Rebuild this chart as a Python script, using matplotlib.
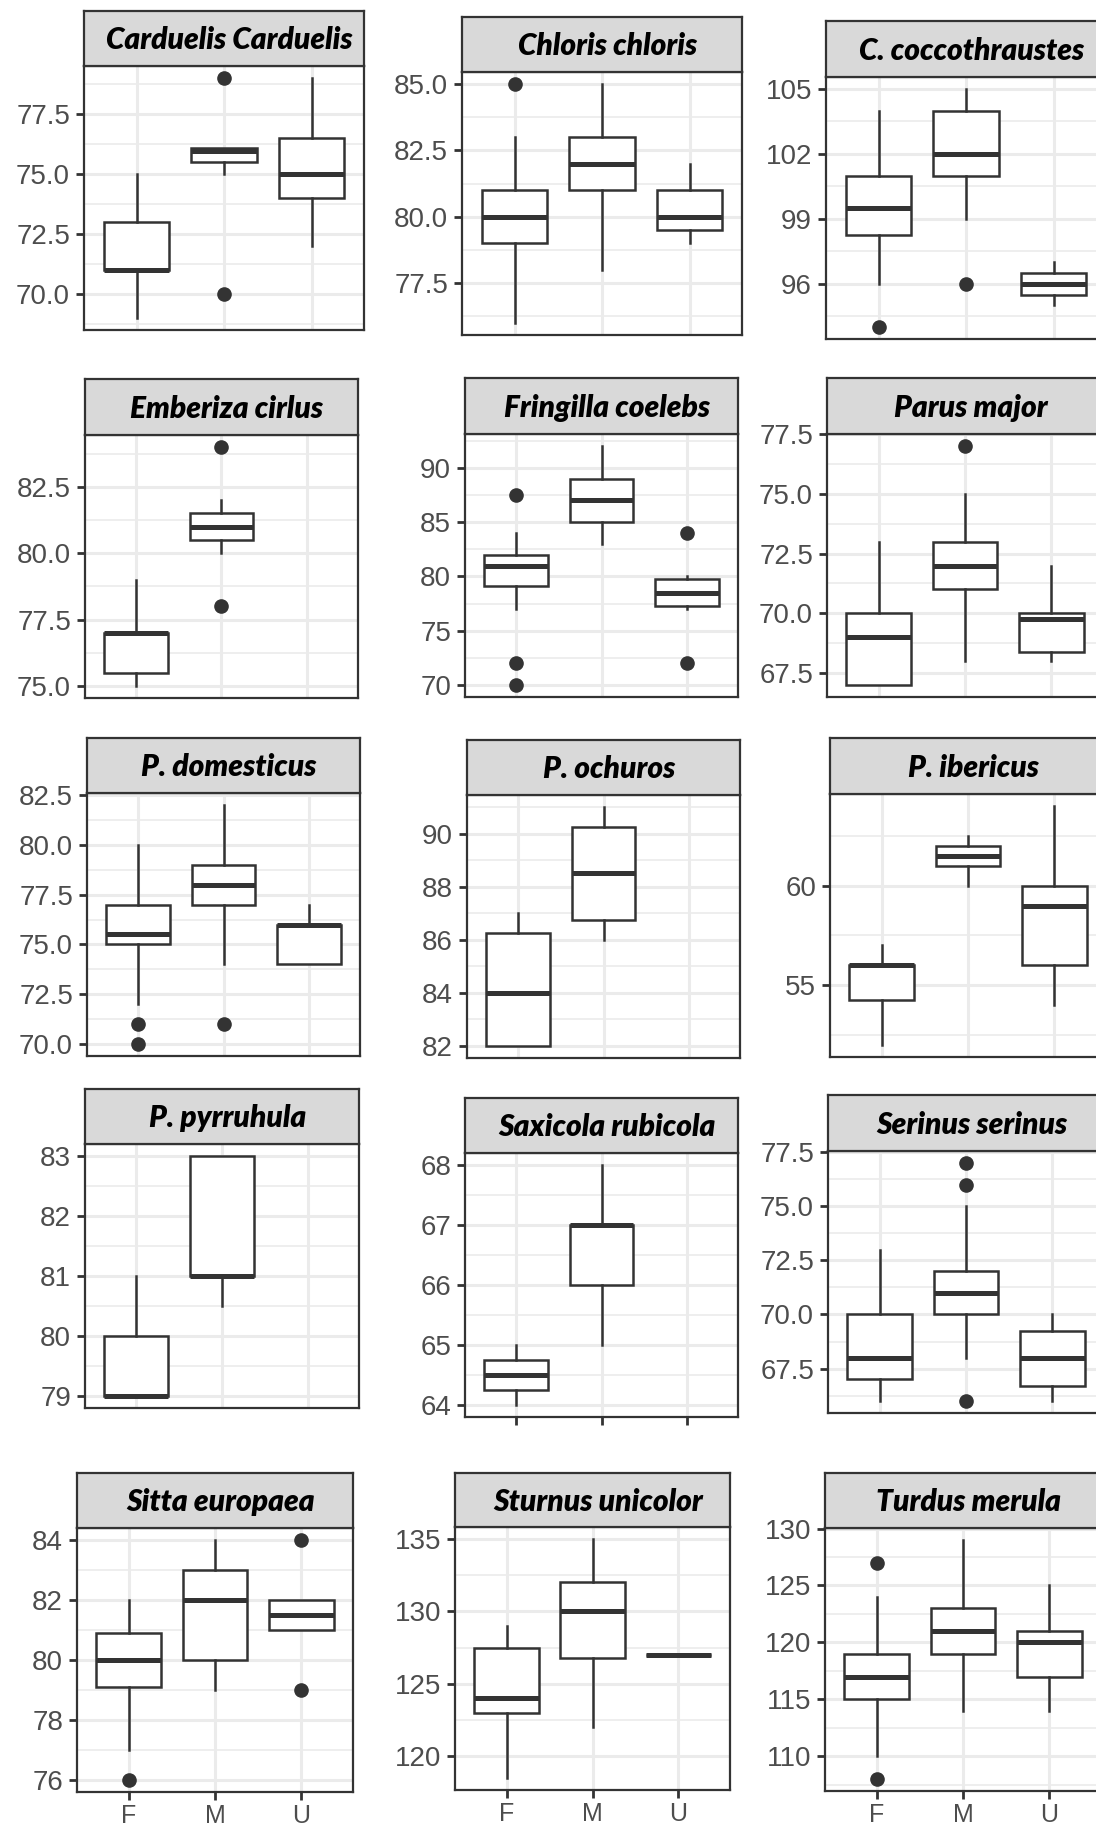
import matplotlib
matplotlib.use("Agg")
import matplotlib.pyplot as plt
from matplotlib.ticker import AutoMinorLocator

W, H = 1096, 1827

groups = ["F", "M", "U"]

# box stats per group: [whisker low, q1, median, q3, whisker high]; None = no data
carduelis_box = [[69, 71, 71, 73, 75], [75, 75.5, 75.95, 76.1, 76.1], [72, 74, 75, 76.5, 79]]
carduelis_out = [[], [79, 70], []]
carduelis_ticks = [70.0, 72.5, 75.0, 77.5]

chloris_box = [[76, 79, 80, 81, 83], [78, 81, 82, 83, 85], [79, 79.5, 80, 81, 82]]
chloris_out = [[85], [], []]
chloris_ticks = [77.5, 80.0, 82.5, 85.0]

cocco_box = [[96, 98.25, 99.5, 101, 104], [99, 101, 102, 104, 105], [95, 95.5, 96, 96.5, 97]]
cocco_out = [[94], [96], []]
cocco_ticks = [96, 99, 102, 105]

emberiza_box = [[75, 75.5, 77, 77, 79], [80, 80.5, 81, 81.5, 82], None]
emberiza_out = [[], [84, 78], []]
emberiza_ticks = [75.0, 77.5, 80.0, 82.5]

fringilla_box = [[77, 79.1, 81, 82, 84], [83, 85, 87, 89, 92], [77, 77.3, 78.5, 79.8, 80]]
fringilla_out = [[87.5, 72, 70], [], [84, 72]]
fringilla_ticks = [70, 75, 80, 85, 90]

parus_box = [[67, 67, 69, 70, 73], [68, 71, 72, 73, 75], [68, 68.4, 69.75, 70, 72]]
parus_out = [[], [77], []]
parus_ticks = [67.5, 70.0, 72.5, 75.0, 77.5]

domesticus_box = [[72, 75, 75.5, 77, 80], [74, 77, 78, 79, 82], [74, 74, 76, 76, 77]]
domesticus_out = [[71, 70], [71], []]
domesticus_ticks = [70.0, 72.5, 75.0, 77.5, 80.0, 82.5]

ochuros_box = [[82, 82, 84, 86.25, 87], [86, 86.75, 88.5, 90.25, 91], None]
ochuros_out = [[], [], []]
ochuros_ticks = [82, 84, 86, 88, 90]

ibericus_box = [[52, 54.25, 56, 56, 57], [60, 61, 61.5, 62, 62.5], [54, 56, 59, 60, 64]]
ibericus_out = [[], [], []]
ibericus_ticks = [55, 60]

pyrruhula_box = [[79, 79, 79, 80, 81], [80.5, 81, 81, 83, 83], None]
pyrruhula_out = [[], [], []]
pyrruhula_ticks = [79, 80, 81, 82, 83]

saxicola_box = [[64, 64.25, 64.5, 64.75, 65], [65, 66, 67, 67, 68], None]
saxicola_out = [[], [], []]
saxicola_ticks = [64, 65, 66, 67, 68]

serinus_box = [[66, 67, 68, 70, 73], [68, 70, 71, 72, 75], [66, 66.7, 68, 69.25, 70]]
serinus_out = [[], [77, 76, 66], []]
serinus_ticks = [67.5, 70.0, 72.5, 75.0, 77.5]

sitta_box = [[77, 79.1, 80, 80.9, 82], [79, 80, 82, 83, 84], [81, 81, 81.5, 82, 82]]
sitta_out = [[76], [], [84, 79]]
sitta_ticks = [76, 78, 80, 82, 84]

sturnus_box = [[118.5, 123, 124, 127.5, 129], [122, 126.75, 130, 132, 135], [127, 127, 127, 127, 127]]
sturnus_out = [[], [], []]
sturnus_ticks = [120, 125, 130, 135]

turdus_box = [[110, 115, 117, 119, 124], [114, 119, 121, 123, 129], [114, 117, 120, 121, 125]]
turdus_out = [[127, 108], [], []]
turdus_ticks = [110, 115, 120, 125, 130]

species = ["Carduelis Carduelis", "Chloris chloris", "C. coccothraustes",
           "Emberiza cirlus", "Fringilla coelebs", "Parus major",
           "P. domesticus", "P. ochuros", "P. ibericus",
           "P. pyrruhula", "Saxicola rubicola", "Serinus serinus",
           "Sitta europaea", "Sturnus unicolor", "Turdus merula"]
boxes = [carduelis_box, chloris_box, cocco_box, emberiza_box, fringilla_box, parus_box,
         domesticus_box, ochuros_box, ibericus_box, pyrruhula_box, saxicola_box, serinus_box,
         sitta_box, sturnus_box, turdus_box]
outliers = [carduelis_out, chloris_out, cocco_out, emberiza_out, fringilla_out, parus_out,
            domesticus_out, ochuros_out, ibericus_out, pyrruhula_out, saxicola_out, serinus_out,
            sitta_out, sturnus_out, turdus_out]
yticks = [carduelis_ticks, chloris_ticks, cocco_ticks, emberiza_ticks, fringilla_ticks, parus_ticks,
          domesticus_ticks, ochuros_ticks, ibericus_ticks, pyrruhula_ticks, saxicola_ticks, serinus_ticks,
          sitta_ticks, sturnus_ticks, turdus_ticks]

# layout in image pixels: left, strip top, strip bottom, panel bottom, width
layout = [
    (84, 11, 66, 330, 280), (462, 17, 72, 335, 280), (826, 21, 77, 339, 280),
    (85, 379, 435, 698, 273), (465, 378, 434, 697, 273), (827, 378, 434, 697, 276),
    (87, 738, 793, 1056, 273), (467, 740, 795, 1058, 273), (830, 738, 794, 1057, 276),
    (85, 1089, 1144, 1408, 274), (465, 1098, 1153, 1417, 273), (828, 1095, 1151, 1413, 276),
    (77, 1473, 1528, 1792, 276), (455, 1473, 1527, 1790, 275), (825, 1473, 1528, 1791, 276),
]

DARK = "#333333"
GRID = "#EBEBEB"
plt.rcParams["font.family"] = ["Liberation Sans", "DejaVu Sans"]


def frac(left, top, width, height):
    return [left / W, 1 - (top + height) / H, width / W, height / H]


fig = plt.figure(figsize=(W / 100, H / 100), dpi=100)

for i, name in enumerate(species):
    left, st, sb, bot, wd = layout[i]
    ax = fig.add_axes(frac(left, sb, wd, bot - sb))
    stats, pos, allv = [], [], []
    for g in range(3):
        b = boxes[i][g]
        if b is None:
            continue
        fl = outliers[i][g]
        stats.append(dict(whislo=b[0], q1=b[1], med=b[2], q3=b[3], whishi=b[4], fliers=fl))
        pos.append(g + 1)
        allv += b + fl
    ax.bxp(stats, positions=pos, widths=0.75, patch_artist=True, showcaps=False,
           boxprops=dict(facecolor="white", edgecolor=DARK, linewidth=1.8),
           medianprops=dict(color=DARK, linewidth=3.6, solid_capstyle="butt"),
           whiskerprops=dict(color=DARK, linewidth=1.8),
           flierprops=dict(marker="o", markerfacecolor=DARK, markeredgecolor=DARK, markersize=9.5))
    lo, hi = min(allv), max(allv)
    pad = 0.05 * (hi - lo)
    ax.set_ylim(lo - pad, hi + pad)
    ax.set_xlim(0.4, 3.6)
    ax.set_xticks([1, 2, 3])
    ticks = yticks[i]
    ax.set_yticks(ticks)
    if any(t != int(t) for t in ticks):
        ax.set_yticklabels([f"{t:.1f}" for t in ticks])
    else:
        ax.set_yticklabels([f"{int(t)}" for t in ticks])
    ax.yaxis.set_minor_locator(AutoMinorLocator(2))
    ax.grid(which="major", color=GRID, linewidth=2.2)
    ax.grid(which="minor", axis="y", color=GRID, linewidth=1.2)
    ax.set_axisbelow(True)
    for sp in ax.spines.values():
        sp.set_color(DARK)
        sp.set_linewidth(1.6)
    ax.tick_params(axis="y", which="major", length=6, width=2, color=DARK,
                   labelcolor="#4D4D4D", labelsize=20, pad=4)
    ax.tick_params(which="minor", length=0)
    if i >= 12:
        ax.set_xticklabels(groups)
        ax.tick_params(axis="x", length=6, width=2, color=DARK,
                       labelcolor="#4D4D4D", labelsize=18, pad=2.5)
    elif i == 10:
        ax.set_xticklabels([])
        ax.tick_params(axis="x", length=6, width=2, color=DARK)
    else:
        ax.set_xticklabels([])
        ax.tick_params(axis="x", length=0)

    sax = fig.add_axes(frac(left, st, wd, sb - st))
    sax.set_facecolor("#D9D9D9")
    sax.set_xticks([])
    sax.set_yticks([])
    for sp in sax.spines.values():
        sp.set_color(DARK)
        sp.set_linewidth(1.6)
    sax.text(0.52, 0.47, name, transform=sax.transAxes, ha="center", va="center",
             fontsize=21.5, fontweight="heavy", fontstyle="italic", family="Lato", color="black")

fig.savefig("out.png", dpi=100)
